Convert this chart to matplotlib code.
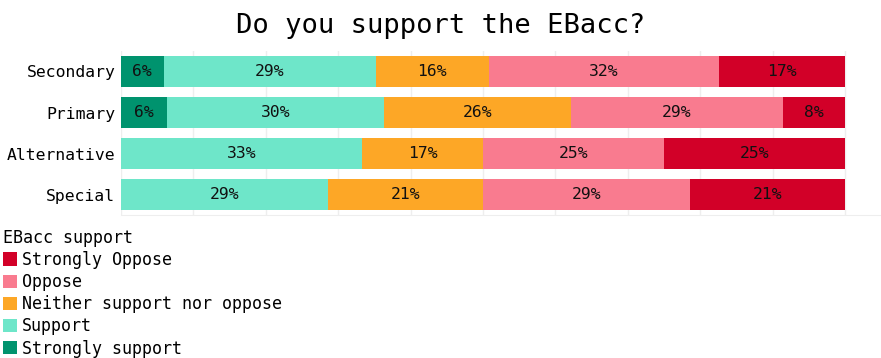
import matplotlib
matplotlib.use("Agg")
import matplotlib.pyplot as plt
from matplotlib.patches import Patch
import numpy as np

plt.rcParams['font.family'] = ['DejaVu Sans Mono']

schools = ["Secondary", "Primary", "Alternative", "Special"]
responses = ["Strongly support", "Support", "Neither support nor oppose", "Oppose", "Strongly Oppose"]
strongly_support = [0.059, 0.063, 0.0, 0.0]
support = [0.293, 0.300, 0.333, 0.286]
neither = [0.156, 0.258, 0.167, 0.214]
oppose = [0.318, 0.294, 0.250, 0.286]
strongly_oppose = [0.174, 0.085, 0.250, 0.214]
series = [strongly_support, support, neither, oppose, strongly_oppose]
colors = ["#00936E", "#6EE6C9", "#FDA726", "#F97B8F", "#D20028"]

W, H = 881, 358
fig = plt.figure(figsize=(W / 100, H / 100), dpi=100)
ax = fig.add_axes([121 / W, 1 - 215 / H, (880 - 121) / W, (215 - 51) / H])

y = np.arange(len(schools))
left = np.zeros(len(schools))
for vals, col, name in zip(series, colors, responses):
    vals = np.array(vals)
    ax.barh(y, vals, left=left, height=0.75, color=col, label=name, zorder=2)
    for xi, (l, v) in enumerate(zip(left, vals)):
        if v > 0:
            ax.text(l + v / 2, y[xi], f"{v * 100:.0f}%", ha="center", va="center",
                    fontsize=11.8, color="#111111", zorder=3)
    left = left + vals

ax.set_xlim(0, 1.0 * (880 - 121) / 724)
ax.set_ylim(len(schools) - 0.5, -0.5)
ax.set_xticks(np.arange(0, 1.01, 0.1))
ax.set_xticklabels([])
ax.tick_params(axis="x", length=0)
ax.set_yticks(y)
ax.set_yticklabels(schools, fontsize=11.8)
ax.tick_params(axis="y", length=0, pad=4)
ax.grid(axis="x", color="#eeeeee", linewidth=1, zorder=0)
for s in ["top", "right", "left"]:
    ax.spines[s].set_visible(False)
ax.spines["bottom"].set_color("#eeeeee")

fig.suptitle("Do you support the EBacc?", x=0.5, y=1 - 13 / H, va="top", fontsize=19.5)

handles = [Patch(facecolor=c, edgecolor="none") for c in colors][::-1]
labels = responses[::-1]
leg = fig.legend(handles, labels, title="EBacc support", loc="upper left",
                 bbox_to_anchor=(1 / W, 1 - 227 / H), frameon=False, fontsize=12,
                 title_fontsize=12, handlelength=0.85, handleheight=0.85,
                 handletextpad=0.3, labelspacing=0.25, borderpad=0.1,
                 borderaxespad=0, alignment="left")

fig.savefig("out.png", dpi=100)
